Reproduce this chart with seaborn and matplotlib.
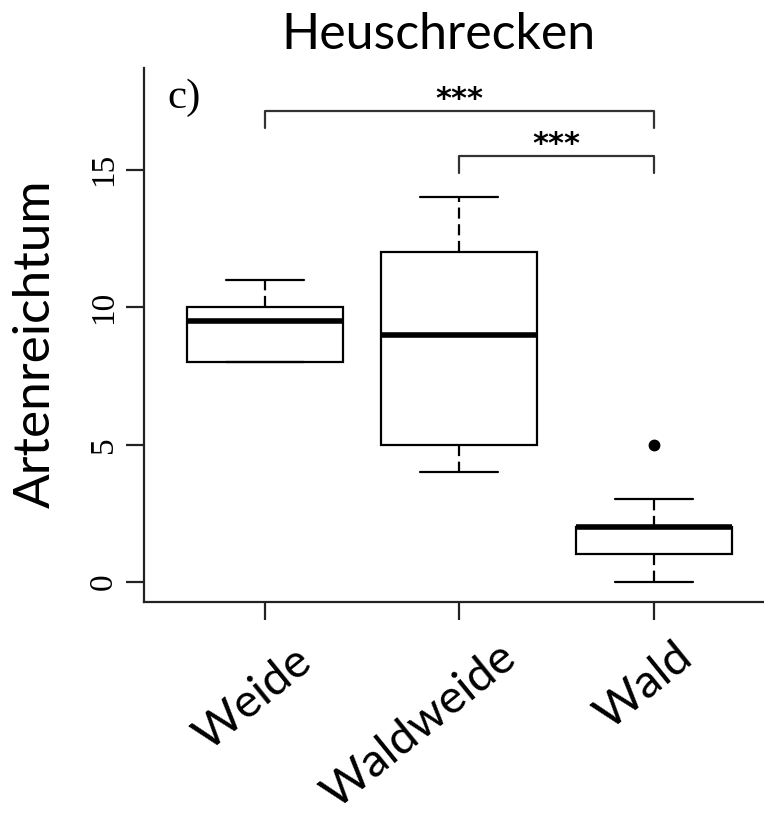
import matplotlib
matplotlib.use("Agg")
import matplotlib.pyplot as plt
from matplotlib.transforms import ScaledTranslation
import numpy as np
import pandas as pd
import seaborn as sns

# raw samples (quartiles, whiskers, outlier)
groups = ["Weide", "Waldweide", "Wald"]
weide = [8, 8, 8, 9, 10, 10, 10, 11]
waldweide = [4, 5, 5, 8, 9, 10, 12, 12, 14]
wald = [0, 1, 1, 1, 2, 2, 2, 2, 3, 5]

yticks = [0, 5, 10, 15]
# significance brackets: (from, to, height, label)
brackets = [(0, 2, 17.12, "***"), (1, 2, 15.5, "***")]

# hand placed label shifts (pixels right, pixels down) like in the source slide
label_shift = [(-12, 73), (-40, 100), (-10, 61)]

df = pd.DataFrame({
    "Habitat": ["Weide"] * len(weide) + ["Waldweide"] * len(waldweide) + ["Wald"] * len(wald),
    "Arten": weide + waldweide + wald,
})

sns.set_style("ticks")
plt.rcParams["font.family"] = ["Lato", "DejaVu Sans"]
plt.rcParams["text.color"] = "black"
plt.rcParams["xtick.color"] = "black"
plt.rcParams["ytick.color"] = "black"

fig = plt.figure(figsize=(7.64, 8.17), dpi=100)
ax = fig.add_axes([144 / 764, 215 / 817, 1 - 144 / 764, (602 - 68) / 817])

sns.boxplot(data=df, x="Habitat", y="Arten", order=groups, ax=ax,
            color="white", linecolor="black", width=0.8, linewidth=1.6,
            whis=1.5,
            medianprops=dict(color="black", linewidth=4),
            whiskerprops=dict(linestyle=(0, (5, 2.5)), linewidth=1.6),
            capprops=dict(linewidth=1.6),
            flierprops=dict(marker="o", markerfacecolor="black",
                            markeredgecolor="black", markersize=7.5))

ax.set_xlim(-0.62, 2.565)
ax.set_ylim(-0.73, 18.7)
ax.set_xlabel("")
ax.set_ylabel("")
sns.despine(ax=ax)
for s in ["left", "bottom"]:
    ax.spines[s].set_linewidth(1.6)
    ax.spines[s].set_color("#222222")

ax.set_yticks(yticks)
ax.set_yticklabels([str(t) for t in yticks], rotation=90, va="center",
                   family="Liberation Serif", fontsize=24)
ax.tick_params(axis="both", length=13, width=1.6, color="#222222")
ax.tick_params(axis="y", pad=5)
ax.tick_params(axis="x", pad=4)

ax.set_xticks(range(len(groups)))
ax.set_xticklabels(groups, rotation=39, ha="center", va="center",
                   rotation_mode="anchor", fontsize=34)
for lab, (dx, dy) in zip(ax.get_xticklabels(), label_shift):
    lab.set_transform(lab.get_transform() + ScaledTranslation(dx / 100, -dy / 100, fig.dpi_scale_trans))

for x0, x1, h, txt in brackets:
    ax.plot([x0, x0, x1, x1], [h - 0.62, h, h, h - 0.62], color="#333333",
            lw=1.6, clip_on=False)
    ax.text((x0 + x1) / 2, h + 0.42, txt, ha="center", va="center",
            family="DejaVu Sans", fontweight="bold", fontsize=22)

ax.text(-0.5, 18.3, "c)", ha="left", va="top", family="Liberation Serif", fontsize=31)

fig.text(438 / 764, 1 - 35 / 817, "Heuschrecken", ha="center", va="center", fontsize=36)
fig.text(36 / 764, 1 - 344 / 817, "Artenreichtum", ha="center", va="center",
         rotation=90, fontsize=37)

fig.savefig("out.png", dpi=100)
